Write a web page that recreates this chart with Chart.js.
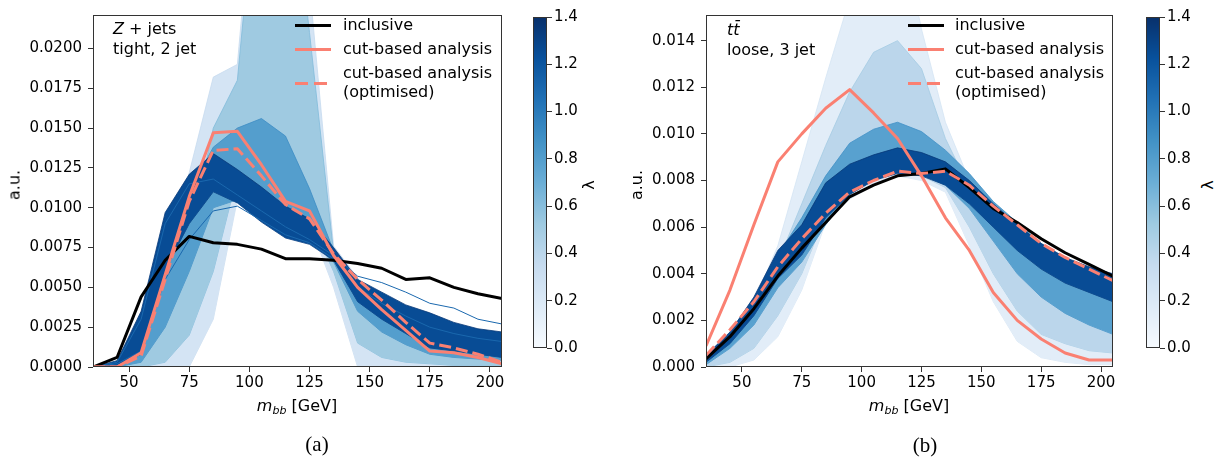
<!DOCTYPE html>
<html>
<head>
<meta charset="utf-8">
<script src="https://cdn.jsdelivr.net/npm/chart.js@4.4.1/dist/chart.umd.min.js"></script>
<style>
  body { margin: 0; background: #fff; font-family: "DejaVu Sans", sans-serif; }
  #page { position: relative; width: 1225px; height: 460px; overflow: hidden; }
  .box { position: absolute; }
  .txt { position: absolute; font-size: 16px; line-height: 20px; color: #000; white-space: nowrap; }
  .rot { position: absolute; font-size: 16px; color: #000; white-space: nowrap; transform: translate(-50%, -50%) rotate(-90deg); }
  .mid { position: absolute; font-size: 16px; color: #000; white-space: nowrap; transform: translate(-50%, -50%); }
  .cap { position: absolute; font-family: "Liberation Serif", serif; font-size: 21px; transform: translate(-50%, -50%); }
  .swatch { position: absolute; width: 36px; height: 3px; }
  sub { font-size: 11px; vertical-align: -3px; font-style: italic; }
</style>
</head>
<body>
<div id="page">
  <div class="box" style="left:0;top:0;width:512px;height:400px"><canvas id="zjets"></canvas></div>
  <div class="box" style="left:520px;top:0;width:60px;height:400px"><canvas id="cbarA"></canvas></div>
  <div class="box" style="left:613px;top:0;width:510px;height:400px"><canvas id="ttbar"></canvas></div>
  <div class="box" style="left:1133px;top:0;width:60px;height:400px"><canvas id="cbarB"></canvas></div>

  <!-- panel (a) texts -->
  <div class="rot" style="left:14px;top:185px">a.u.</div>
  <div class="mid" style="left:297px;top:406px"><i>m</i><sub>bb</sub> [GeV]</div>
  <div class="cap" style="left:317px;top:444px">(a)</div>
  <div class="txt" style="left:113px;top:19px"><i>Z</i> + jets</div>
  <div class="txt" style="left:113px;top:39px">tight, 2 jet</div>
  <div class="swatch" style="left:295px;top:24px;background:#000"></div>
  <div class="swatch" style="left:295px;top:48px;background:#fa8072"></div>
  <div class="swatch" style="left:295px;top:82px;background:repeating-linear-gradient(to right,#fa8072 0 13px,transparent 13px 19px)"></div>
  <div class="txt" style="left:343px;top:15px">inclusive</div>
  <div class="txt" style="left:343px;top:39px">cut-based analysis</div>
  <div class="txt" style="left:343px;top:63px">cut-based analysis</div>
  <div class="txt" style="left:343px;top:82px">(optimised)</div>
  <div class="rot" style="left:588px;top:185px">λ</div>

  <!-- panel (b) texts -->
  <div class="rot" style="left:636px;top:185px">a.u.</div>
  <div class="mid" style="left:909px;top:406px"><i>m</i><sub>bb</sub> [GeV]</div>
  <div class="cap" style="left:925px;top:445px">(b)</div>
  <div class="txt" style="left:727px;top:20px"><i>tt̄</i></div>
  <div class="txt" style="left:727px;top:40px">loose, 3 jet</div>
  <div class="swatch" style="left:908px;top:24px;background:#000"></div>
  <div class="swatch" style="left:908px;top:48px;background:#fa8072"></div>
  <div class="swatch" style="left:908px;top:82px;background:repeating-linear-gradient(to right,#fa8072 0 13px,transparent 13px 19px)"></div>
  <div class="txt" style="left:955px;top:15px">inclusive</div>
  <div class="txt" style="left:955px;top:39px">cut-based analysis</div>
  <div class="txt" style="left:955px;top:63px">cut-based analysis</div>
  <div class="txt" style="left:955px;top:82px">(optimised)</div>
  <div class="rot" style="left:1207px;top:185px">λ</div>
</div>

<script>
// bin centres in m_bb [GeV] and axis ticks
const massBins = [35, 45, 55, 65, 75, 85, 95, 105, 115, 125, 135, 145, 155, 165, 175, 185, 195, 205];
const massTicks = [50, 75, 100, 125, 150, 175, 200];
const zjetsTicks = [0, 0.0025, 0.005, 0.0075, 0.01, 0.0125, 0.015, 0.0175, 0.02];
const ttbarTicks = [0, 0.002, 0.004, 0.006, 0.008, 0.010, 0.012, 0.014];
const lambdaRange = [0, 1.4];
const lambdaTicks = [0, 0.2, 0.4, 0.6, 0.8, 1.0, 1.2, 1.4];

// lambda value that colours each group of curves (pale, light, mid, dark)
const zjetsGroupLambdas = [0.25, 0.52, 0.8, 1.25];
const ttbarGroupLambdas = [0.15, 0.4, 0.78, 1.25];

// (a) Z + jets, tight, 2 jet
const zjetsInclusive = [0.0000, 0.0006, 0.0044, 0.0067, 0.0082, 0.0078, 0.0077, 0.0074, 0.0068, 0.0068, 0.0067, 0.0065, 0.0062, 0.0055, 0.0056, 0.0050, 0.0046, 0.0043];
const zjetsCut = [0.0000, 0.0000, 0.0009, 0.0058, 0.0107, 0.0147, 0.0148, 0.0127, 0.0104, 0.0098, 0.0070, 0.0050, 0.0036, 0.0023, 0.0010, 0.0009, 0.0006, 0.0002];
const zjetsCutOpt = [0.0000, 0.0000, 0.0007, 0.0055, 0.0104, 0.0136, 0.0137, 0.0120, 0.0102, 0.0093, 0.0071, 0.0055, 0.0042, 0.0028, 0.0015, 0.0012, 0.0008, 0.0003];
// envelopes of the lambda scan, low and high edge per group
const zjetsPaleLo = [0, 0, 0, 0, 0, 0.0030, 0.0105, 0.0115, 0.0105, 0.0090, 0.0050, 0, 0, 0, 0, 0, 0, 0];
const zjetsPaleHi = [0, 0.0002, 0.0020, 0.0062, 0.0122, 0.0182, 0.0190, 0.0360, 0.0360, 0.0240, 0.0076, 0.0056, 0.0030, 0.0021, 0.0013, 0.0010, 0.0008, 0.0006];
const zjetsLightLo = [0, 0, 0, 0.0003, 0.0020, 0.0060, 0.0120, 0.0125, 0.0112, 0.0093, 0.0060, 0.0015, 0.0006, 0.0003, 0.0002, 0.0001, 0.0001, 0.0001];
const zjetsLightHi = [0, 0, 0.0005, 0.0030, 0.0080, 0.0150, 0.0180, 0.0340, 0.0340, 0.0210, 0.0072, 0.0050, 0.0028, 0.0019, 0.0011, 0.0009, 0.0007, 0.0005];
const zjetsMidLo = [0, 0, 0.0003, 0.0025, 0.0060, 0.0100, 0.0105, 0.0095, 0.0085, 0.0080, 0.0066, 0.0035, 0.0022, 0.0014, 0.0008, 0.0006, 0.0005, 0.0004];
const zjetsMidHi = [0, 0.0002, 0.0015, 0.0070, 0.0110, 0.0138, 0.0150, 0.0156, 0.0145, 0.0112, 0.0073, 0.0052, 0.0040, 0.0032, 0.0025, 0.0020, 0.0017, 0.0015];
const zjetsDarkLo = [0, 0.0001, 0.0008, 0.0061, 0.0090, 0.0110, 0.0103, 0.0091, 0.0081, 0.0077, 0.0067, 0.0041, 0.0030, 0.0021, 0.0012, 0.0010, 0.0008, 0.0006];
const zjetsDarkHi = [0, 0.0004, 0.0035, 0.0097, 0.0121, 0.0134, 0.0124, 0.0113, 0.0101, 0.0093, 0.0075, 0.0055, 0.0047, 0.0039, 0.0034, 0.0028, 0.0024, 0.0022];
const zjetsStrayA = [0, 0.0002, 0.0010, 0.0055, 0.0080, 0.0098, 0.0101, 0.0092, 0.0083, 0.0078, 0.0068, 0.0050, 0.0040, 0.0032, 0.0025, 0.0021, 0.0018, 0.0016];
const zjetsStrayB = [0, 0.0003, 0.0030, 0.0090, 0.0115, 0.0118, 0.0108, 0.0098, 0.0088, 0.0080, 0.0070, 0.0057, 0.0053, 0.0047, 0.0040, 0.0037, 0.0030, 0.0027];

// (b) ttbar, loose, 3 jet
const ttbarInclusive = [0.00035, 0.0013, 0.0025, 0.0039, 0.0051, 0.0062, 0.0073, 0.0078, 0.0082, 0.0083, 0.0085, 0.0077, 0.0068, 0.0062, 0.0055, 0.0049, 0.0044, 0.0039];
const ttbarCut = [0.0009, 0.0033, 0.0061, 0.0088, 0.0100, 0.0111, 0.0119, 0.0109, 0.0098, 0.0082, 0.0064, 0.0050, 0.0032, 0.0020, 0.0012, 0.0006, 0.0003, 0.0003];
const ttbarCutOpt = [0.0005, 0.0016, 0.0028, 0.0043, 0.0055, 0.0066, 0.0075, 0.0080, 0.0084, 0.0083, 0.0084, 0.0078, 0.0069, 0.0061, 0.0053, 0.0047, 0.0042, 0.0037];
const ttbarPaleLo = [0, 0, 0.0003, 0.0013, 0.0033, 0.0062, 0.0072, 0.0078, 0.0082, 0.0080, 0.0075, 0.0052, 0.0028, 0.0011, 0.0004, 0.0002, 0.0001, 0.0001];
const ttbarPaleHi = [0.0004, 0.0012, 0.0028, 0.0052, 0.0088, 0.0124, 0.0158, 0.0190, 0.0195, 0.0145, 0.0105, 0.0080, 0.0066, 0.0058, 0.0050, 0.0044, 0.0040, 0.0036];
const ttbarLightLo = [0, 0.0002, 0.0008, 0.0022, 0.0040, 0.0065, 0.0075, 0.0080, 0.0084, 0.0082, 0.0077, 0.0060, 0.0040, 0.0024, 0.0014, 0.0010, 0.0007, 0.0006];
const ttbarLightHi = [0.0003, 0.0010, 0.0024, 0.0045, 0.0070, 0.0095, 0.0118, 0.0135, 0.0140, 0.0128, 0.0098, 0.0077, 0.0064, 0.0055, 0.0047, 0.0041, 0.0037, 0.0033];
const ttbarMidLo = [0.0001, 0.0008, 0.0018, 0.0034, 0.0045, 0.0061, 0.0074, 0.0080, 0.0084, 0.0083, 0.0078, 0.0068, 0.0054, 0.0040, 0.0030, 0.0023, 0.0018, 0.0014];
const ttbarMidHi = [0.0004, 0.0013, 0.0028, 0.0048, 0.0064, 0.0082, 0.0096, 0.0102, 0.0105, 0.0101, 0.0093, 0.0083, 0.0071, 0.0062, 0.0053, 0.0046, 0.0041, 0.0038];
const ttbarDarkLo = [0.0002, 0.0010, 0.0022, 0.0038, 0.0048, 0.0064, 0.0074, 0.0080, 0.0083, 0.0082, 0.0078, 0.0070, 0.0060, 0.0050, 0.0042, 0.0036, 0.0032, 0.0028];
const ttbarDarkHi = [0.0005, 0.0015, 0.0030, 0.0050, 0.0061, 0.0079, 0.0087, 0.0091, 0.0094, 0.0092, 0.0088, 0.0080, 0.0070, 0.0061, 0.0053, 0.0047, 0.0043, 0.0040];

const SALMON = '#fa8072';
const TXT = '#000';
const tickFont = { family: 'DejaVu Sans', size: 15 };

// matplotlib "Blues"
const bluesStops = ['#f7fbff', '#deebf7', '#c6dbef', '#9ecae1', '#6baed6', '#4292c6', '#2171b5', '#08519c', '#08306b'];
function blues(t) {
    t = Math.min(1, Math.max(0, t));
    const p = t * (bluesStops.length - 1);
    const i = Math.min(bluesStops.length - 2, Math.floor(p));
    const f = p - i;
    const a = parseInt(bluesStops[i].slice(1), 16), b = parseInt(bluesStops[i + 1].slice(1), 16);
    const mix = (s) => Math.round(((a >> s) & 255) * (1 - f) + ((b >> s) & 255) * f);
    return `rgb(${mix(16)},${mix(8)},${mix(0)})`;
}
const lambdaColor = (l) => blues((l - lambdaRange[0]) / (lambdaRange[1] - lambdaRange[0]));

// box round the plot area, like matplotlib spines
const framePlugin = {
    id: 'frame',
    afterDraw(chart) {
        const { ctx, chartArea: a } = chart;
        ctx.save();
        ctx.strokeStyle = '#333';
        ctx.lineWidth = 1;
        ctx.strokeRect(Math.round(a.left) + 0.5, Math.round(a.top) + 0.5, Math.round(a.right - a.left) - 1, Math.round(a.bottom - a.top) - 1);
        ctx.restore();
    }
};

function curve(values, style) {
    return Object.assign({
        data: massBins.map((m, i) => ({ x: m, y: values[i] })),
        pointRadius: 0,
        borderWidth: 1,
        tension: 0,
        fill: false,
        borderJoinStyle: 'round'
    }, style);
}

function buildDatasets(groups, lambdas, strays, inclusive, cut, cutOpt) {
    const ds = [];
    groups.forEach(([lo, hi], k) => {
        const c = lambdaColor(lambdas[k]);
        const edge = lambdaColor(lambdas[k] + 0.1);
        ds.push(curve(lo, { borderColor: edge, borderWidth: 0.8 }));
        ds.push(curve(hi, { borderColor: edge, borderWidth: 0.8, fill: '-1', backgroundColor: c }));
    });
    strays.forEach(s => ds.push(curve(s, { borderColor: lambdaColor(1.1), borderWidth: 1 })));
    ds.push(curve(inclusive, { borderColor: '#000', borderWidth: 3 }));
    ds.push(curve(cut, { borderColor: SALMON, borderWidth: 3 }));
    ds.push(curve(cutOpt, { borderColor: SALMON, borderWidth: 3, borderDash: [12, 5] }));
    // later entries on top
    ds.forEach((d, i) => { d.order = ds.length - i; });
    return ds;
}

function spectrumChart(id, datasets, yTicks, yMax, decimals) {
    return new Chart(document.getElementById(id), {
        type: 'line',
        data: { datasets: datasets },
        options: {
            responsive: true,
            maintainAspectRatio: false,
            animation: false,
            events: [],
            layout: { padding: { top: 3, right: 10, left: 0, bottom: 0 } },
            plugins: { legend: { display: false }, tooltip: { enabled: false } },
            scales: {
                x: {
                    type: 'linear',
                    min: 35,
                    max: 205,
                    afterBuildTicks: (s) => { s.ticks = massTicks.map(v => ({ value: v })); },
                    afterFit: (s) => { s.height = 33; },
                    ticks: { font: tickFont, color: TXT, padding: 2, maxRotation: 0 },
                    grid: { drawOnChartArea: false, tickLength: 5, tickColor: '#333' },
                    border: { display: false }
                },
                y: {
                    min: 0,
                    max: yMax,
                    afterBuildTicks: (s) => { s.ticks = yTicks.map(v => ({ value: v })); },
                    afterFit: (s) => { s.width = 93; },
                    ticks: { font: tickFont, color: TXT, padding: 6, callback: (v) => Number(v).toFixed(decimals) },
                    grid: { drawOnChartArea: false, tickLength: 5, tickColor: '#333' },
                    border: { display: false }
                }
            }
        },
        plugins: [framePlugin]
    });
}

function colorbar(id) {
    return new Chart(document.getElementById(id), {
        type: 'bar',
        data: {
            labels: ['λ'],
            datasets: [{
                data: [[lambdaRange[0], lambdaRange[1]]],
                backgroundColor: (ctx) => {
                    const a = ctx.chart.chartArea;
                    if (!a) return lambdaColor(0.7);
                    const g = ctx.chart.ctx.createLinearGradient(0, a.bottom, 0, a.top);
                    bluesStops.forEach((c, i) => g.addColorStop(i / (bluesStops.length - 1), c));
                    return g;
                },
                borderWidth: 0,
                barPercentage: 1,
                categoryPercentage: 1
            }]
        },
        options: {
            responsive: true,
            maintainAspectRatio: false,
            animation: false,
            events: [],
            layout: { padding: { top: 17, bottom: 52, left: 13, right: 0 } },
            plugins: { legend: { display: false }, tooltip: { enabled: false } },
            scales: {
                x: { display: false },
                y: {
                    position: 'right',
                    min: lambdaRange[0],
                    max: lambdaRange[1],
                    afterBuildTicks: (s) => { s.ticks = lambdaTicks.map(v => ({ value: v })); },
                    afterFit: (s) => { s.width = 33; },
                    ticks: { font: tickFont, color: TXT, padding: 2, callback: (v) => Number(v).toFixed(1) },
                    grid: { drawOnChartArea: false, tickLength: 5, tickColor: '#333' },
                    border: { display: false }
                }
            }
        },
        plugins: [framePlugin]
    });
}

spectrumChart('zjets', buildDatasets(
    [[zjetsPaleLo, zjetsPaleHi], [zjetsLightLo, zjetsLightHi], [zjetsMidLo, zjetsMidHi], [zjetsDarkLo, zjetsDarkHi]],
    zjetsGroupLambdas,
    [zjetsStrayA, zjetsStrayB],
    zjetsInclusive, zjetsCut, zjetsCutOpt), zjetsTicks, 0.0221, 4);

spectrumChart('ttbar', buildDatasets(
    [[ttbarPaleLo, ttbarPaleHi], [ttbarLightLo, ttbarLightHi], [ttbarMidLo, ttbarMidHi], [ttbarDarkLo, ttbarDarkHi]],
    ttbarGroupLambdas,
    [],
    ttbarInclusive, ttbarCut, ttbarCutOpt), ttbarTicks, 0.0151, 3);

colorbar('cbarA');
colorbar('cbarB');
</script>
</body>
</html>
